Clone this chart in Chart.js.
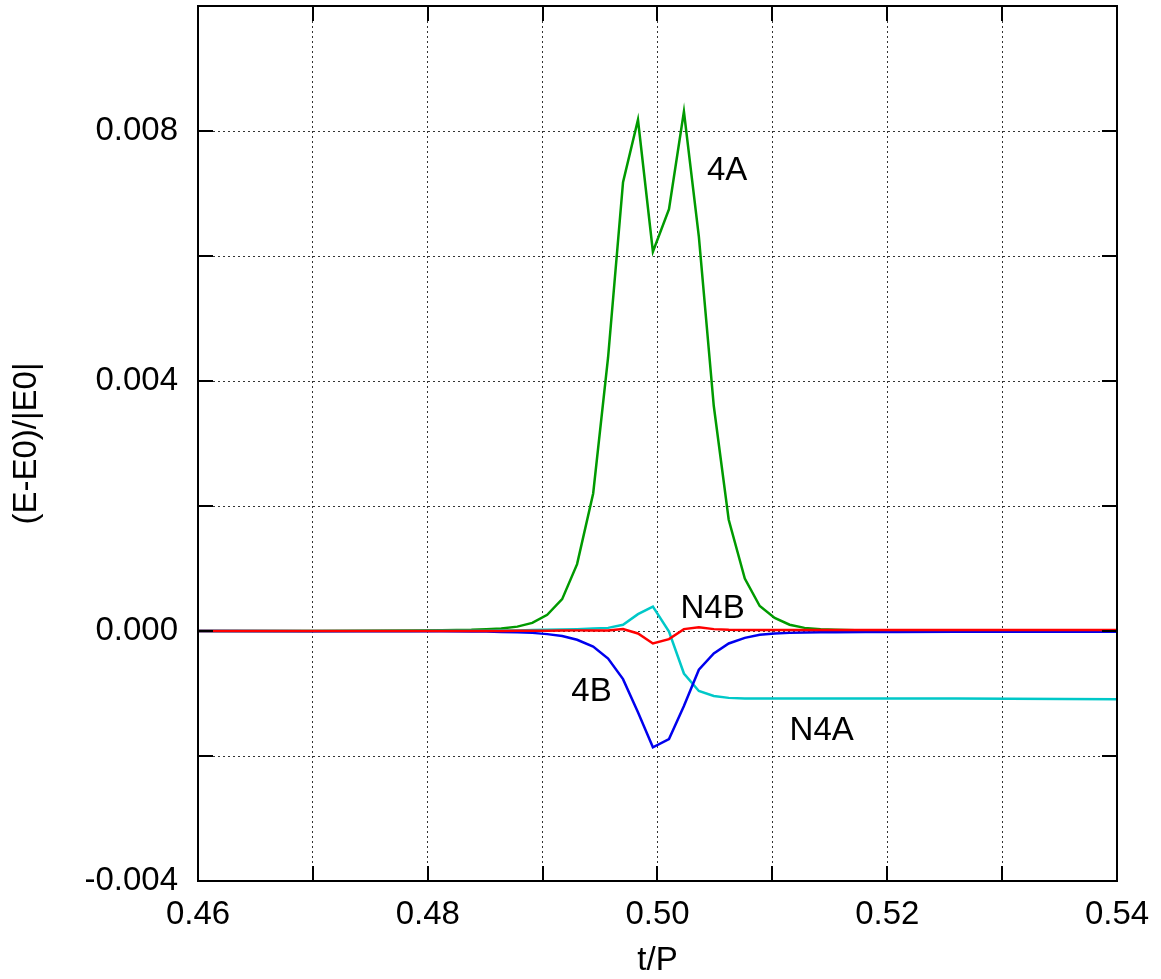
<!DOCTYPE html>
<html>
<head>
<meta charset="utf-8">
<title>(E-E0)/|E0| vs t/P</title>
<script src="https://cdn.jsdelivr.net/npm/chart.js@4.4.1/dist/chart.umd.min.js"></script>
<style>
  body { margin: 0; background: #fff; }
  #wrap { width: 1161px; height: 979px; }
</style>
</head>
<body>
<div id="wrap"><canvas id="chart" width="1161" height="979"></canvas></div>
<script>
// sample times (t/P), shared by every curve
const tValues = [0.4600, 0.4700, 0.4785, 0.4812, 0.4838, 0.4851, 0.4864, 0.4878, 0.4891, 0.4904,
  0.4917, 0.4930, 0.4944, 0.4957, 0.4970, 0.4983, 0.4996, 0.5010, 0.5023, 0.5036,
  0.5049, 0.5062, 0.5076, 0.5089, 0.5102, 0.5115, 0.5128, 0.5142, 0.5155, 0.5181,
  0.5208, 0.5260, 0.5400];

// (E-E0)/|E0| for each run
const series4A = [0, 0.000002, 0.000008, 0.000012, 0.00002, 0.00003, 0.00004, 0.00007, 0.00013, 0.00026,
  0.00051, 0.00107, 0.0022, 0.00438, 0.00718, 0.00818, 0.00607, 0.00675, 0.00831, 0.00631,
  0.0036, 0.00178, 0.00084, 0.0004, 0.00021, 0.0001, 0.00005, 0.00003, 0.00002, 0.00001,
  0.000005, 0.000002, 0];
const seriesN4A = [0, 0, 0.000002, 0.000004, 0.000005, 0.000006, 0.000008, 0.00001, 0.000015, 0.00002,
  0.000025, 0.00003, 0.00004, 0.00005, 0.0001, 0.00027, 0.00039, -0.00001, -0.00068, -0.00096,
  -0.00104, -0.00107, -0.00108, -0.00108, -0.00108, -0.00108, -0.00108, -0.00108, -0.00108, -0.00108,
  -0.00108, -0.00108, -0.00109];
const series4B = [0, -0.000002, -0.000005, -0.000005, -0.000008, -0.00001, -0.000015, -0.00002, -0.00003, -0.00005,
  -0.00008, -0.00014, -0.00025, -0.00044, -0.00077, -0.0013, -0.00186, -0.00173, -0.0012, -0.00062,
  -0.00036, -0.0002, -0.00011, -0.00006, -0.00004, -0.00003, -0.000025, -0.00002, -0.00002, -0.000015,
  -0.000015, -0.00001, -0.00001];
const seriesN4B = [0, 0, 0, 0, 0, 0, 0, 0.000003, 0.000005, 0.000006,
  0.000008, 0.00001, 0.00001, 0.00001, 0.00003, -0.00004, -0.0002, -0.00013, 0.00003, 0.00006,
  0.00003, 0.00002, 0.000015, 0.000015, 0.000015, 0.000015, 0.000015, 0.000015, 0.000015, 0.000015,
  0.000015, 0.000015, 0.000015];

// curve labels, placed in data units
const labelTexts = ['4A', 'N4B', '4B', 'N4A'];
const labelT = [0.5043, 0.5020, 0.4925, 0.5115];
const labelV = [0.00736, 0.00035, -0.00098, -0.0016];

function toPoints(values) {
  return values.map(function (v, i) { return { x: tValues[i], y: v }; });
}

const FONT = 'Liberation Sans, Arial, Helvetica, sans-serif';
const FONT_SIZE = 33;

// frame, inward tick marks and curve labels, the gnuplot way
const framePlugin = {
  id: 'frame',
  afterDraw: function (chart) {
    const ctx = chart.ctx;
    const a = chart.chartArea;
    const xs = chart.scales.x;
    const ys = chart.scales.y;
    const len = 15;
    ctx.save();
    ctx.strokeStyle = '#000';
    ctx.lineWidth = 2;
    ctx.beginPath();
    xs.ticks.forEach(function (t) {
      const px = Math.round(xs.getPixelForValue(t.value));
      ctx.moveTo(px, a.bottom); ctx.lineTo(px, a.bottom - len);
      ctx.moveTo(px, a.top); ctx.lineTo(px, a.top + len);
    });
    ys.ticks.forEach(function (t) {
      const py = Math.round(ys.getPixelForValue(t.value));
      ctx.moveTo(a.left, py); ctx.lineTo(a.left + len, py);
      ctx.moveTo(a.right, py); ctx.lineTo(a.right - len, py);
    });
    ctx.stroke();
    ctx.strokeRect(a.left, a.top, a.right - a.left, a.bottom - a.top);

    ctx.fillStyle = '#000';
    ctx.font = FONT_SIZE + 'px ' + FONT;
    ctx.textAlign = 'left';
    ctx.textBaseline = 'middle';
    labelTexts.forEach(function (txt, i) {
      ctx.fillText(txt, xs.getPixelForValue(labelT[i]), ys.getPixelForValue(labelV[i]));
    });
    ctx.restore();
  }
};

new Chart(document.getElementById('chart').getContext('2d'), {
  type: 'line',
  data: {
    datasets: [
      { label: 'N4B', data: toPoints(seriesN4B), borderColor: '#ff0000' },
      { label: '4B', data: toPoints(series4B), borderColor: '#0000ee' },
      { label: 'N4A', data: toPoints(seriesN4A), borderColor: '#00c8c8' },
      { label: '4A', data: toPoints(series4A), borderColor: '#009a00' }
    ]
  },
  options: {
    responsive: false,
    animation: false,
    devicePixelRatio: 1,
    layout: { padding: { top: 6, right: 44, left: 0, bottom: 0 } },
    elements: {
      line: { borderWidth: 2.5, tension: 0, fill: false },
      point: { radius: 0 }
    },
    plugins: {
      legend: { display: false },
      tooltip: { enabled: false }
    },
    scales: {
      x: {
        type: 'linear',
        min: 0.46,
        max: 0.54,
        afterFit: function (scale) {
          scale.height = 98;
          scale.paddingLeft = 0;
          scale.paddingRight = 0;
        },
        ticks: {
          stepSize: 0.01,
          autoSkip: false,
          maxRotation: 0,
          padding: 14,
          color: '#000',
          font: { family: FONT, size: FONT_SIZE },
          callback: function (v) {
            return Math.round(v * 100) % 2 === 0 ? v.toFixed(2) : '';
          }
        },
        grid: { color: 'rgba(0,0,0,0.8)', lineWidth: 1, drawTicks: false },
        border: { display: false, dash: [2, 3] },
        title: {
          display: true,
          text: 't/P',
          color: '#000',
          font: { family: FONT, size: FONT_SIZE },
          padding: { top: 0, bottom: -2 }
        }
      },
      y: {
        min: -0.004,
        max: 0.010,
        afterFit: function (scale) {
          scale.width = 198;
          scale.paddingTop = 0;
          scale.paddingBottom = 0;
        },
        ticks: {
          stepSize: 0.002,
          autoSkip: false,
          padding: 20,
          color: '#000',
          font: { family: FONT, size: FONT_SIZE },
          callback: function (v) {
            const k = Math.round(v / 0.002);
            if (k % 2 !== 0 || k > 4) return '';
            return (Math.round(v * 1000) / 1000 + 0).toFixed(3);
          }
        },
        grid: { color: 'rgba(0,0,0,0.8)', lineWidth: 1, drawTicks: false },
        border: { display: false, dash: [2, 3] },
        title: {
          display: true,
          text: '(E-E0)/|E0|',
          color: '#000',
          font: { family: FONT, size: FONT_SIZE },
          padding: { top: 7, bottom: 0 }
        }
      }
    }
  },
  plugins: [framePlugin]
});
</script>
</body>
</html>
